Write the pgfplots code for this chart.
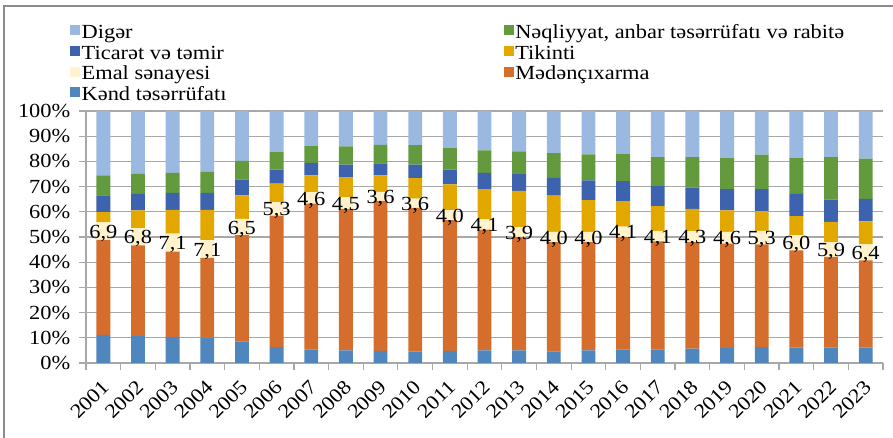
\documentclass[border=0pt]{standalone}
\usepackage{pgfplots}
\pgfplotsset{compat=1.18}
\usepackage{pgfplotstable}
\usepackage{fontspec}
\setmainfont{Liberation Serif}[FakeStretch=1.12]

\definecolor{kend}{HTML}{4F86BE}
\definecolor{med}{HTML}{D56E2D}
\definecolor{emal}{HTML}{FFF2CC}
\definecolor{tik}{HTML}{E3A800}
\definecolor{tic}{HTML}{3D63AE}
\definecolor{nql}{HTML}{649A3E}
\definecolor{dig}{HTML}{9AB8E0}
\definecolor{gridgray}{HTML}{A8A8A8}
\definecolor{frame}{HTML}{8C8C8C}

% shares in %, bottom to top; ly = middle of the Emal segment for its label
\pgfplotstableread{
x kend med emal tik tic nql dig ly lab
0 11.2 37.7 6.9 4.1 6.6 8.0 25.5 52.35 6,9
1 10.8 35.9 6.8 7.1 6.5 7.9 25.0 50.10 6,8
2 10.4 33.8 7.1 9.5 6.7 7.9 24.6 47.75 7,1
3 10.1 31.6 7.1 12.0 6.7 8.3 24.2 45.25 7,1
4 8.6 42.1 6.5 9.3 6.3 7.4 19.8 53.95 6,5
5 6.3 52.2 5.3 7.4 5.5 7.0 16.3 61.15 5,3
6 5.4 57.8 4.6 6.7 4.9 6.7 13.9 65.50 4,6
7 5.0 56.2 4.5 8.1 4.9 7.3 14.0 63.45 4,5
8 4.8 59.5 3.6 6.6 4.7 7.4 13.4 66.10 3,6
9 4.5 57.1 3.6 8.2 5.3 7.8 13.5 63.40 3,6
10 4.8 51.9 4.0 10.2 5.8 8.6 14.7 58.70 4,0
11 5.0 47.9 4.1 12.0 6.4 9.0 15.6 54.95 4,1
12 5.0 45.0 3.9 14.4 6.6 9.1 16.0 51.95 3,9
13 4.6 43.4 4.0 14.4 7.1 9.8 16.7 50.00 4,0
14 5.0 43.0 4.0 12.6 7.9 10.3 17.2 50.00 4,0
15 5.4 44.6 4.1 10.1 8.0 10.9 16.9 52.05 4,1
16 5.4 42.9 4.1 9.8 8.0 11.5 18.3 50.35 4,1
17 5.7 42.3 4.3 8.9 8.4 12.1 18.3 50.15 4,3
18 6.0 41.4 4.6 8.6 8.4 12.3 18.7 49.70 4,6
19 6.3 40.8 5.3 7.9 8.7 13.7 17.3 49.75 5,3
20 6.1 38.6 6.0 7.6 8.8 14.2 18.7 47.70 6,0
21 6.1 36.0 5.9 8.0 8.8 16.9 18.3 45.05 5,9
22 6.1 34.6 6.4 9.1 8.9 16.0 18.9 43.90 6,4
}\data

\begin{document}
\begin{tikzpicture}
\useasboundingbox (0,0) rectangle (669.75pt,328.5pt);
\draw[frame, line width=1pt] (3pt,0) -- (3pt,324pt) -- (669.75pt,324pt);

\pgfplotsset{
  base/.style={
    scale only axis, width=597.75pt, height=189pt,
    at={(64.5pt,56.25pt)}, anchor=south west,
    xmin=-0.5, xmax=22.5, ymin=0, ymax=100,
  }
}

\begin{axis}[base,
  ybar stacked, bar width=0.4,
  axis lines*=left,
  axis line style={draw=gridgray, line width=0.9pt},
  ymajorgrids, grid style={draw=gridgray, line width=0.9pt},
  tick align=outside, major tick length=5.25pt,
  tick style={draw=gridgray, line width=0.9pt},
  tick label style={font=\fontsize{15}{18}\selectfont},
  ytick={0,10,...,100},
  yticklabels={0\%,10\%,20\%,30\%,40\%,50\%,60\%,70\%,80\%,90\%,100\%},
  yticklabel style={xshift=-3pt},
  xtick={-0.5,0.5,...,22.5}, xticklabels={},
  extra x ticks={0,1,...,22},
  extra x tick labels={2001,2002,2003,2004,2005,2006,2007,2008,2009,2010,2011,2012,2013,2014,2015,2016,2017,2018,2019,2020,2021,2022,2023},
  extra x tick style={major tick length=0pt,
    tick label style={xshift=4pt, yshift=-13pt, rotate=45, anchor=east}},
  reverse legend,
  legend columns=2,
  legend cell align=left,
  legend image code/.code={\fill[#1] (0pt,-1.25pt) rectangle (7.5pt,6.25pt);},
  legend style={draw=none, fill=none,
    at={(axis description cs:-0.025,1.36)}, anchor=north west,
    font=\fontsize{15}{18}\selectfont,
    nodes={inner sep=1pt, text height=10.5pt, text depth=3pt},
    /tikz/every even column/.append style={column sep=207pt}},
]
\addplot[fill=kend, draw=none] table[x=x, y=kend] {\data};
\addlegendentry{Kənd təsərrüfatı}
\addplot[fill=med, draw=none] table[x=x, y=med] {\data};
\addlegendentry{Mədənçıxarma}
\addplot[fill=emal, draw=none] table[x=x, y=emal] {\data};
\addlegendentry{Emal sənayesi}
\addplot[fill=tik, draw=none] table[x=x, y=tik] {\data};
\addlegendentry{Tikinti}
\addplot[fill=tic, draw=none] table[x=x, y=tic] {\data};
\addlegendentry{Ticarət və təmir}
\addplot[fill=nql, draw=none] table[x=x, y=nql] {\data};
\addlegendentry{Nəqliyyat, anbar təsərrüfatı və rabitə}
\addplot[fill=dig, draw=none] table[x=x, y=dig] {\data};
\addlegendentry{Digər}
\end{axis}

\begin{axis}[base, hide axis]
\addplot[draw=none, mark=none, nodes near coords, point meta=explicit symbolic,
  nodes near coords align={center},
  every node near coord/.append style={anchor=center, inner sep=0pt,
    yshift=-1.5pt, font=\fontsize{15}{18}\selectfont}]
  table[x=x, y=ly, meta=lab] {\data};
\end{axis}
\end{tikzpicture}
\end{document}
